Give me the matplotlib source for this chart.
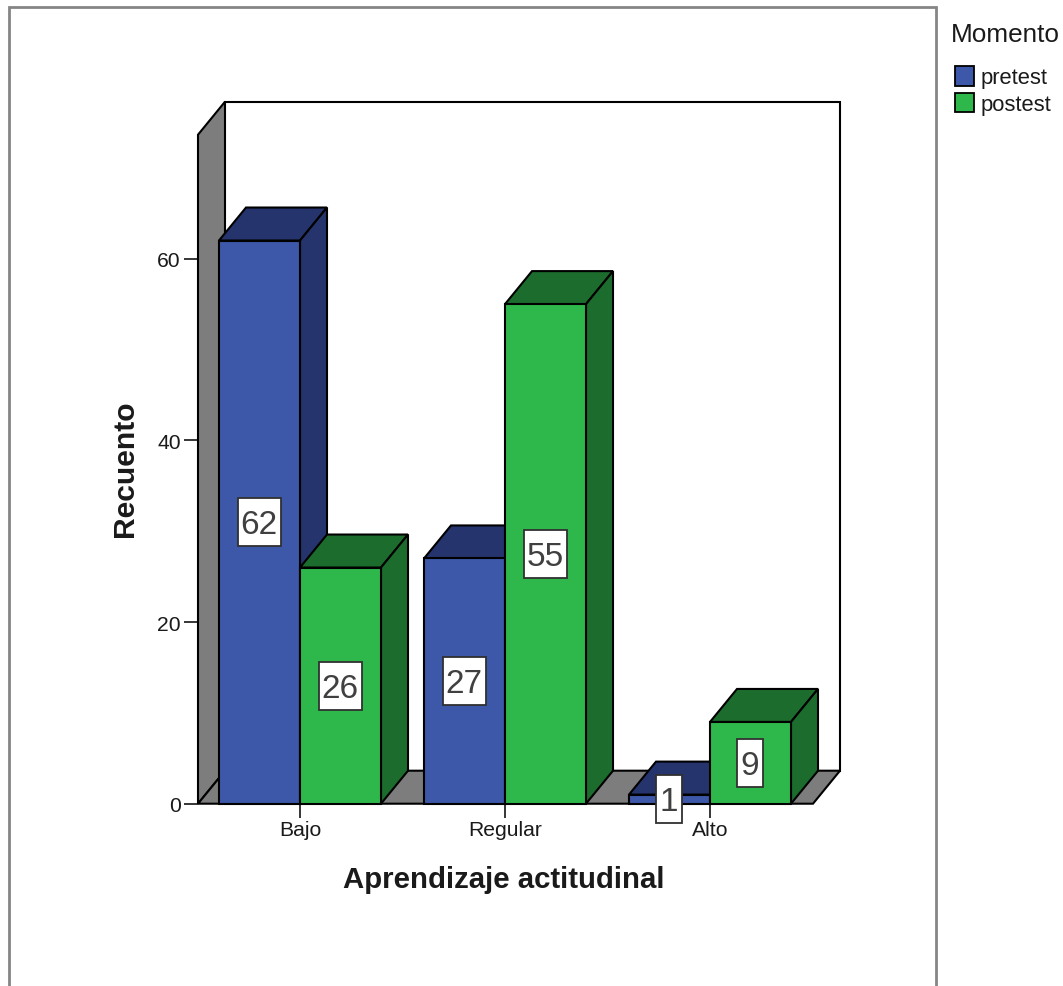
import matplotlib

matplotlib.use("Agg")
import matplotlib.pyplot as plt
from matplotlib.lines import Line2D
from matplotlib.patches import Patch, Rectangle

plt.rcParams["font.family"] = ["Liberation Sans", "DejaVu Sans"]

categories = ["Bajo", "Regular", "Alto"]
pretest = [62, 27, 1]
postest = [26, 55, 9]
series_names = ["pretest", "postest"]
y_ticks = [0, 20, 40, 60]

W, H = 1063, 987
BLUE, BLUE_DARK = "#3d57a9", "#25346c"
GREEN, GREEN_DARK = "#2eb84b", "#1c6d2d"
WALL = "#7d7d7d"
FRAME = "#858585"
TEXT = "#1a1a1a"

# pixel layout of the plot box
LEFT, RIGHT, BOTTOM, TOP = 198, 840, 804.7, 102.7
CAT_STEP = 205.0
UNIT = 9.083  # px per count
X0 = 300  # px of first category
BAR_W = 81 / CAT_STEP
DX = 27 / CAT_STEP
DY = 33 / UNIT
WALL_TOP = 73.65

fig = plt.figure(figsize=(W / 100, H / 100), dpi=100, facecolor="white")
ax = fig.add_axes([LEFT / W, 1 - BOTTOM / H, (RIGHT - LEFT) / W, (BOTTOM - TOP) / H])
ax.set_xlim((LEFT - X0) / CAT_STEP, (RIGHT - X0) / CAT_STEP)
ax.set_ylim(0, WALL_TOP + DY)
ax.patch.set_visible(False)
for s in ax.spines.values():
    s.set_visible(False)

x_min = ax.get_xlim()[0]
x_back = ax.get_xlim()[1]
x_front = x_back - DX
edge = {"edgecolor": "black", "linewidth": 1.5, "joinstyle": "miter", "clip_on": False}

# side wall, floor, back wall outline
ax.fill([x_min, x_min + DX, x_min + DX, x_min], [0, DY, WALL_TOP + DY, WALL_TOP], facecolor=WALL, zorder=1, **edge)
ax.fill([x_min, x_front, x_back, x_min + DX], [0, 0, DY, DY], facecolor=WALL, zorder=1, **edge)
ax.plot(
    [x_min + DX, x_back, x_back],
    [WALL_TOP + DY, WALL_TOP + DY, DY],
    color="black",
    lw=1.5,
    zorder=1,
    solid_joinstyle="miter",
    clip_on=False,
)


def bar3d(x, v, face, dark, z):
    # x is the left edge of the front face
    ax.fill([x, x + BAR_W, x + BAR_W + DX, x + DX], [v, v, v + DY, v + DY], facecolor=dark, zorder=z, **edge)
    ax.fill([x + BAR_W, x + BAR_W + DX, x + BAR_W + DX, x + BAR_W], [0, DY, v + DY, v], facecolor=dark, zorder=z, **edge)
    ax.bar(x, v, BAR_W, align="edge", color=face, zorder=z + 0.1, **edge)


def value_box(cx, v, z):
    txt = str(v)
    w = (43 if len(txt) > 1 else 26) / CAT_STEP
    h = 48 / UNIT
    ax.add_patch(
        Rectangle(
            (cx - w / 2, v / 2 - h / 2),
            w,
            h,
            facecolor="white",
            edgecolor="#303030",
            linewidth=1.3,
            zorder=z,
            clip_on=False,
        )
    )
    ax.annotate(
        txt,
        (cx, v / 2),
        xytext=(-0.5, 0.6),
        textcoords="offset points",
        ha="center",
        va="center_baseline",
        fontsize=24,
        color="#404040",
        zorder=z + 0.1,
    )


for i, (a, b) in enumerate(zip(pretest, postest)):
    z = 2 + i
    bar3d(i - BAR_W, a, BLUE, BLUE_DARK, z)
    bar3d(i, b, GREEN, GREEN_DARK, z + 0.2)

for i, (a, b) in enumerate(zip(pretest, postest)):
    value_box(i - BAR_W / 2, a, 8)
    value_box(i + BAR_W / 2, b, 8)

ax.set_yticks(y_ticks)
ax.set_xticks(range(len(categories)), categories)
ax.tick_params(axis="both", length=10, width=1.1, color="black", labelcolor=TEXT, labelsize=15.2)
ax.tick_params(axis="y", pad=2.5)
ax.tick_params(axis="x", pad=1.5)

ax.set_xlabel("Aprendizaje actitudinal", fontsize=21.2, fontweight="bold", color=TEXT, va="center")
ax.xaxis.set_label_coords((504 - LEFT) / (RIGHT - LEFT), (BOTTOM - 880) / (BOTTOM - TOP))
ax.set_ylabel("Recuento", fontsize=21.6, fontweight="bold", color=TEXT, va="center")
ax.yaxis.set_label_coords((125 - LEFT) / (RIGHT - LEFT), (BOTTOM - 469) / (BOTTOM - TOP))

# outer chart frame, runs off the bottom of the image
fig.add_artist(
    Line2D(
        [9 / W, 9 / W, 936 / W, 936 / W],
        [0, 1 - 8 / H, 1 - 8 / H, 0],
        color=FRAME,
        lw=2,
        solid_joinstyle="miter",
    )
)

handles = [
    Patch(facecolor=BLUE, edgecolor="black", linewidth=1.3),
    Patch(facecolor=GREEN, edgecolor="black", linewidth=1.3),
]
leg = fig.legend(
    handles,
    series_names,
    title="Momento",
    loc="upper left",
    bbox_to_anchor=(955 / W, 1 - 23.5 / H),
    frameon=False,
    fontsize=15.8,
    title_fontsize=18.8,
    handlelength=0.85,
    handleheight=1.0,
    handletextpad=0.3,
    labelspacing=0.2,
    borderpad=0,
    borderaxespad=0,
    labelcolor=TEXT,
)
leg.get_title().set_color(TEXT)
leg.get_title().set_position((-4, 0))
leg._legend_box.align = "left"
leg._legend_box.sep = 14

fig.savefig("out.png", dpi=100)
